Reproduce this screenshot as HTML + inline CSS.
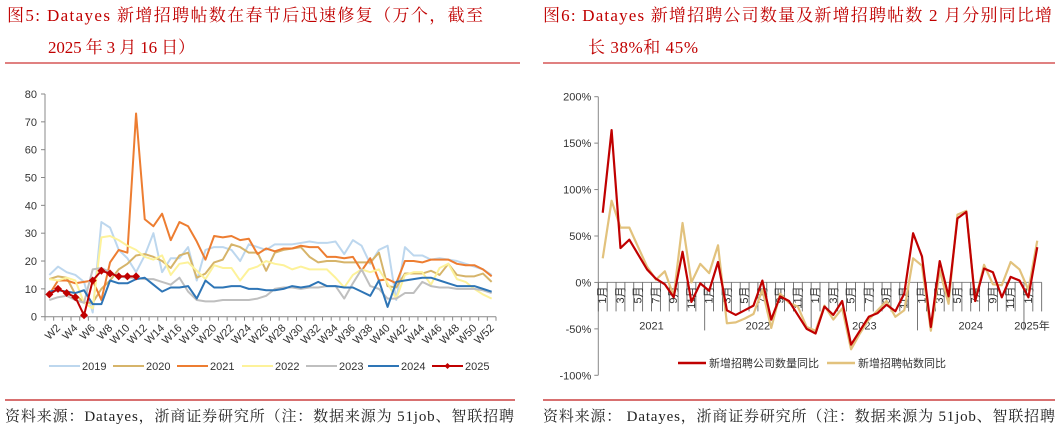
<!DOCTYPE html>
<html><head><meta charset="utf-8"><style>
html,body{margin:0;padding:0;background:#fff;width:1057px;height:433px;overflow:hidden}
svg{display:block}
.t{font-family:"Liberation Serif","Noto Serif CJK SC",serif;font-size:17px;fill:#c00000}
.ax{font-family:"Liberation Sans","Noto Sans CJK SC",sans-serif;font-size:11px;fill:#333}
.src{font-family:"Liberation Serif","Noto Serif CJK SC",serif;font-size:15px;fill:#222}
</style></head><body>
<svg id="s" width="1057" height="433" xmlns="http://www.w3.org/2000/svg">
<text class="t" x="7" y="21" textLength="476" lengthAdjust="spacing">图5:  Datayes 新增招聘帖数在春节后迅速修复（万个，截至</text>
<text class="t" x="48" y="53" textLength="147" lengthAdjust="spacing">2025 年 3 月 16 日）</text>
<line x1="5" y1="63" x2="520" y2="63" stroke="#c00000" stroke-width="1"/>
<text class="t" x="543" y="21" textLength="509" lengthAdjust="spacing">图6:  Datayes 新增招聘公司数量及新增招聘帖数 2 月分别同比增</text>
<text class="t" x="588" y="53" textLength="110" lengthAdjust="spacing">长 38%和 45%</text>
<line x1="543" y1="63" x2="1055" y2="63" stroke="#c00000" stroke-width="1"/>
<line x1="5" y1="400" x2="515" y2="400" stroke="#d87070" stroke-width="2"/>
<line x1="543" y1="400" x2="1055" y2="400" stroke="#d87070" stroke-width="2"/>
<text class="src" x="5" y="421" textLength="509" lengthAdjust="spacing">资料来源：Datayes，浙商证券研究所（注：数据来源为 51job、智联招聘</text>
<text class="src" x="543" y="421" textLength="512" lengthAdjust="spacing">资料来源：  Datayes，浙商证券研究所（注：数据来源为 51job、智联招聘</text>
<g id="c5"></g>
<g id="c6"></g>
</svg>
<script>
// ---------- Chart 5 data ----------
const weeks = Array.from({length:52},(_,i)=>'W'+(i+1));
const yTicks5 = [0,10,20,30,40,50,60,70,80];
const y2019 = [15,18,16,15,12.5,1.5,34,32,24,21,16,22,30,16,21,21,25,13,24,25,25,24,20,26,25,24,26,26,26,26.5,27,26.5,26.5,27,22.5,27.5,25.5,19,24,25.5,6,25,22,22,20.5,21,20.5,20,19,18,17,15];
const y2020 = [13.5,14.5,14,8,5,5,10,13,17,19,22,22.5,21.5,20,17.5,22,23,14,15.5,19.5,20.5,26,25,23,23,16.5,23,24,24.5,25,21.5,19.5,20,20,19.5,19.5,19.5,19.5,23,11,10.5,15.5,15.5,15.5,16.5,15,19,15,14.5,14.5,15.5,12.5];
const y2021 = [8,13,13,12,12.5,13,6,19.5,24,23,73,35,32.5,37,27.5,34,32.5,27,20.5,29,28.5,29,27.5,28,22.5,24.5,23.5,24.5,24.5,25.5,25,25,21.5,21.5,21,21.5,16.5,21,13,13.5,12,20,20,19.5,20.5,20.5,20.5,19,18.5,18.5,17,14.5];
const y2022 = [13.5,13,14,13,5,3,28.5,29,27.5,25.5,24,21.5,20.5,22,15,19,19.5,16.5,13.5,18.5,17.5,17.5,13,17,18,20,19,18.5,17,18,17,17,17,14,10.5,15,17,16,17,12,6.5,15,16,16,11.5,17.5,19,13.5,12.5,10,8,6.5];
const y2023 = [6,7,7.5,6,5,17,17.5,16,14.5,14,14,13.5,13.5,12.5,11.5,14,9,6,5.5,5.5,6,6,6,6,6.5,7.5,10,10.5,10.5,10,10.5,10.5,11,11,6.5,12,17,11,10,6.5,6.5,8.5,8.5,12.5,11,10.5,10.5,10,10,10,9.5,8.5];
const y2024 = [9,9.5,9,8.5,9.5,4.5,4.5,13,12,12,13.5,14,11.5,9,10.5,10.5,11,6.5,13,10.5,10.5,11,11,10,10,9.5,9.5,10,11,10.5,11,12.5,11,11,10.5,10.5,9,7.5,13,3.5,12.5,13,13.5,14,14,13,12,11,11,11,10,9];
const y2025 = [8,10,8.5,7,0.5,13,16.5,15.5,14.5,14.5,14.5];
const seriesNames5 = ['2019','2020','2021','2022','2023','2024','2025'];

// ---------- Chart 6 data ----------
const months6 = ['1月','2月','3月','4月','5月','6月','7月','8月','9月','10月','11月','12月'];
const years6 = ['2021','2022','2023','2024','2025年'];
const yTicks6 = [-100,-50,0,50,100,150,200];
const companyYoY = [75,164,37,46,30,14,4,-2,-16,33,-21,-1, -9,22,-30,-35,-30,-25,2,-40,-15,-20,-35,-50, -55,-26,-35,-20,-67,-52,-37,-33,-24,-31,-12,53, 28,-48,23,-15,69,76,-20,15,11,-16,6,2, -16,38];
const postsYoY = [26,88,59,59,38,17,3,12,-15,64,0,20, 10,40,-44,-43,-39,-34,-8,-49,-12,-22,-26,-48, -52,-25,-40,-28,-72,-55,-40,-30,-20,-37,-30,26, 18,-52,13,-23,73,77,-20,19,-2,-3,22,14, -8,45];
const legend6 = ['新增招聘公司数量同比','新增招聘帖数同比'];

const NS='http://www.w3.org/2000/svg';
function mk(parent,tag,attrs,txt){const e=document.createElementNS(NS,tag);for(const k in attrs)e.setAttribute(k,attrs[k]);if(txt!==undefined)e.textContent=txt;parent.appendChild(e);return e;}

// Chart 5
(function(){
  const g=document.getElementById('c5');
  const L=45,R=496,T=94,B=316.7;
  const bw=(R-L)/weeks.length;
  const x=i=>L+bw*(i+0.5);
  const y=v=>B-(v/80)*(B-T);
  let e=mk(g,'line',{x1:L,y1:T,x2:L,y2:B,stroke:'#888'});
  
  
  e=mk(g,'line',{x1:L,y1:B,x2:R,y2:B,stroke:'#888'});
  
  
  yTicks5.forEach(t=>{
    mk(g,'line',{x1:L-4,y1:y(t),x2:L,y2:y(t),stroke:'#888'});
    const tx=mk(g,'text',{class:'ax',x:L-8,y:y(t)+4,'text-anchor':'end'},t);
    
    
  });
  for(let i=0;i<=weeks.length;i++) mk(g,'line',{x1:L+bw*i,y1:B,x2:L+bw*i,y2:B+4,stroke:'#888'});
  weeks.forEach((w,i)=>{ if((i+1)%2===0){
    const tx=mk(g,'text',{class:'ax',x:x(i)+3,y:B+12,'text-anchor':'end',transform:`rotate(-45 ${x(i)+3} ${B+12})`},w);
    
    
  }});
  const data=[y2019,y2020,y2021,y2022,y2023,y2024,y2025];
  const cols=['#bdd7ee','#d6b46a','#ed7d31','#fdf29a','#bfbfbf','#2e75b6','#c00000'];
  data.forEach((arr,s)=>{
    const p=mk(g,'polyline',{points:arr.map((v,i)=>x(i)+','+y(v)).join(' '),fill:'none',stroke:cols[s],'stroke-width':2,'stroke-linejoin':'round'});
    
    
  });
  y2025.forEach((v,i)=>{
    const d=mk(g,'path',{d:`M${x(i)},${y(v)-4} L${x(i)+4},${y(v)} L${x(i)},${y(v)+4} L${x(i)-4},${y(v)} Z`,fill:'#c00000'});
    
    
  });
  const lx=[49,113,177,242,306,368,432];
  seriesNames5.forEach((n,s)=>{
    const lg=mk(g,'g',{});
    
    
    mk(lg,'line',{x1:lx[s],y1:366,x2:lx[s]+31,y2:366,stroke:cols[s],'stroke-width':2});
    if(s===6) mk(lg,'path',{d:`M${lx[s]+15.5},363 l3,3 l-3,3 l-3,-3 Z`,fill:'#c00000'});
    mk(lg,'text',{class:'ax',x:lx[s]+33,y:370},n);
  });
})();

// Chart 6
(function(){
  const g=document.getElementById('c6');
  const L=598.3,R=1041.7,T=96.7,B=375.3;
  const n=companyYoY.length;
  const bw=(R-L)/n;
  const x=i=>L+bw*(i+0.5);
  const y=v=>B-((v+100)/300)*(B-T);
  const y0=y(0);
  let e=mk(g,'line',{x1:L,y1:T,x2:L,y2:B,stroke:'#888'});
  
  
  e=mk(g,'line',{x1:L,y1:y0,x2:R,y2:y0,stroke:'#888'});
  
  
  yTicks6.forEach(t=>{
    mk(g,'line',{x1:L-4,y1:y(t),x2:L,y2:y(t),stroke:'#888'});
    const tx=mk(g,'text',{class:'ax',x:L-7,y:y(t)+4,'text-anchor':'end'},t+'%');
    
    
  });
  for(let i=0;i<=n;i++){
    const yr=(i%12===0);
    mk(g,'line',{x1:L+bw*i,y1:y0,x2:L+bw*i,y2:yr&&i>0?y0+48:y0+29,stroke:'#555','stroke-width':0.8});
  }
  for(let i=0;i<n;i+=2){
    const tx=mk(g,'text',{class:'ax',x:x(i)+3.5,y:y0+4,'text-anchor':'end','font-size':'9',transform:`rotate(-90 ${x(i)+3.5} ${y0+4})`},months6[i%12]);
    
    
  }
  years6.forEach((yr,k)=>{
    const s=k*12, e2=Math.min(n,s+12);
    const cx=L+bw*(s+e2)/2;
    const tx=mk(g,'text',{class:'ax',x:k===4?1032:cx,y:y0+47,'text-anchor':'middle','font-size':'12'},yr);
    
    
  });
  const cols=['#c00000','#e2c27d'];
  [postsYoY,companyYoY].forEach((arr,k)=>{
    const c=k===0?cols[1]:cols[0];
    const p=mk(g,'polyline',{points:arr.map((v,i)=>x(i)+','+y(v)).join(' '),fill:'none',stroke:c,'stroke-width':2.2,'stroke-linejoin':'round'});
    
    
  });
  const lx=[678,827];
  legend6.forEach((nm,s)=>{
    const lg=mk(g,'g',{});
    
    
    mk(lg,'line',{x1:lx[s],y1:363,x2:lx[s]+28,y2:363,stroke:cols[s],'stroke-width':2.5});
    mk(lg,'text',{class:'ax',x:lx[s]+31,y:367,'font-size':'10'},nm);
  });
})();
</script>
</body></html>
